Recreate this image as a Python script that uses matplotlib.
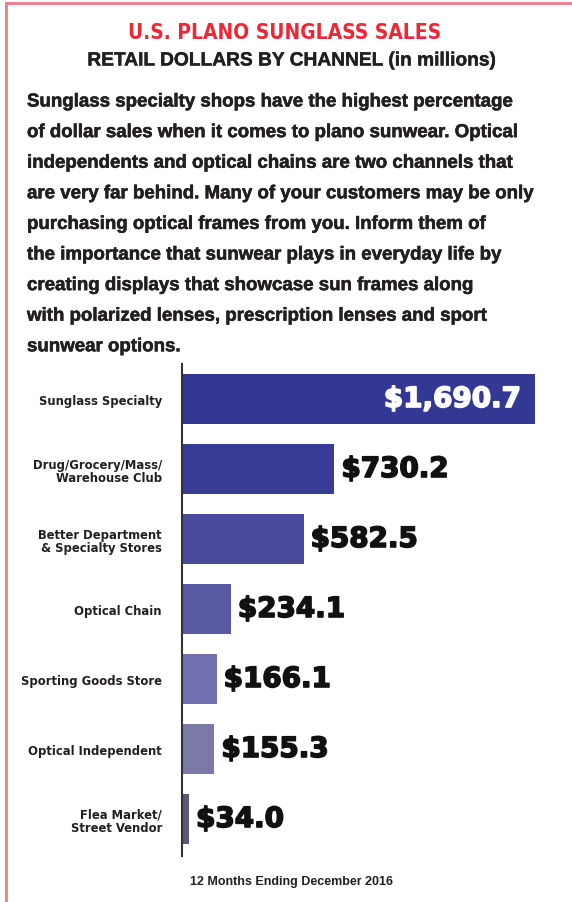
import matplotlib.pyplot as plt
from matplotlib.lines import Line2D
import matplotlib.patheffects as pe

# chart data
channels = ["Sunglass Specialty", "Drug/Grocery/Mass/\nWarehouse Club",
            "Better Department\n& Specialty Stores", "Optical Chain",
            "Sporting Goods Store", "Optical Independent",
            "Flea Market/\nStreet Vendor"]
sales = [1690.7, 730.2, 582.5, 234.1, 166.1, 155.3, 34.0]
bar_colors = ["#333894", "#393c96", "#4a4a9c", "#5a59a4", "#716fb0", "#7b79a8", "#5a5a78"]

title = "U.S. PLANO SUNGLASS SALES"
subtitle = "RETAIL DOLLARS BY CHANNEL (in millions)"
blurb = ["Sunglass specialty shops have the highest percentage",
         "of dollar sales when it comes to plano sunwear. Optical",
         "independents and optical chains are two channels that",
         "are very far behind. Many of your customers may be only",
         "purchasing optical frames from you. Inform them of",
         "the importance that sunwear plays in everyday life by",
         "creating displays that showcase sun frames along",
         "with polarized lenses, prescription lenses and sport",
         "sunwear options."]
footer = "12 Months Ending December 2016"

W, H = 572, 903
fig = plt.figure(figsize=(W / 100, H / 100), dpi=100)
fig.patch.set_facecolor("white")

def fx(px):
    return px / W

def fy(py):
    return 1 - py / H

dark = "#231f20"

# red frame (top and left only)
fig.add_artist(Line2D([fx(6), 1], [fy(4), fy(4)], color="#f27a86", lw=2))
fig.add_artist(Line2D([fx(6), fx(6)], [fy(4), 0], color="#f27a86", lw=2))

# header
fig.text(fx(285), fy(33), title, color="#ee2737", fontsize=15, fontweight="bold",
         family="DejaVu Sans", stretch="condensed", ha="center", va="center")
fig.text(fx(291), fy(62), subtitle, color=dark, fontsize=13.8, fontweight="bold",
         ha="center", va="center", family="Liberation Sans",
         path_effects=[pe.withStroke(linewidth=0.3, foreground=dark)])
for i, line in enumerate(blurb):
    fig.text(fx(27), fy(103 + i * 30.6), line, color=dark, fontsize=13.45,
             fontweight="bold", ha="left", va="center", family="Liberation Sans",
             path_effects=[pe.withStroke(linewidth=0.4, foreground=dark)])

# bars
ax_left, ax_right, ax_top, ax_bot = 182, 562, 365, 857
ax = fig.add_axes([fx(ax_left), fy(ax_bot), fx(ax_right - ax_left), (ax_bot - ax_top) / H])
scale = 353 / sales[0]  # pixels per million
ax.set_xlim(0, (ax_right - ax_left) / scale)
ax.set_ylim((ax_bot - 400) / 70, -0.5)
pos = list(range(len(sales)))
ax.barh(pos, sales, height=0.71, color=bar_colors, edgecolor="none")

for p, v in zip(pos, sales):
    s = "${:,.1f}".format(v)
    if p == 0:
        ax.text(v - 14 / scale, p, s, color="white", fontsize=20, fontweight="heavy",
                ha="right", va="center", family="DejaVu Sans",
                path_effects=[pe.withStroke(linewidth=1.2, foreground="white")])
    else:
        ax.text(v + 7 / scale, p, s, color="#111111", fontsize=20, fontweight="heavy",
                ha="left", va="center", family="DejaVu Sans",
                path_effects=[pe.withStroke(linewidth=1.2, foreground="#111111")])

ax.set_yticks(pos)
ax.set_yticklabels(channels, fontsize=9.3, fontweight="bold", family="DejaVu Sans",
                   stretch="condensed", color=dark, linespacing=1.05)
ax.tick_params(axis="y", length=0, pad=14.4)
ax.set_xticks([])
for sp in ["top", "right", "bottom"]:
    ax.spines[sp].set_visible(False)
ax.spines["left"].set_color("#333333")
ax.spines["left"].set_linewidth(1.5)

fig.text(fx(292), fy(882), footer, color=dark, fontsize=9, fontweight="bold",
         ha="center", va="center", family="Liberation Sans")

fig.savefig("out.png", dpi=100)
